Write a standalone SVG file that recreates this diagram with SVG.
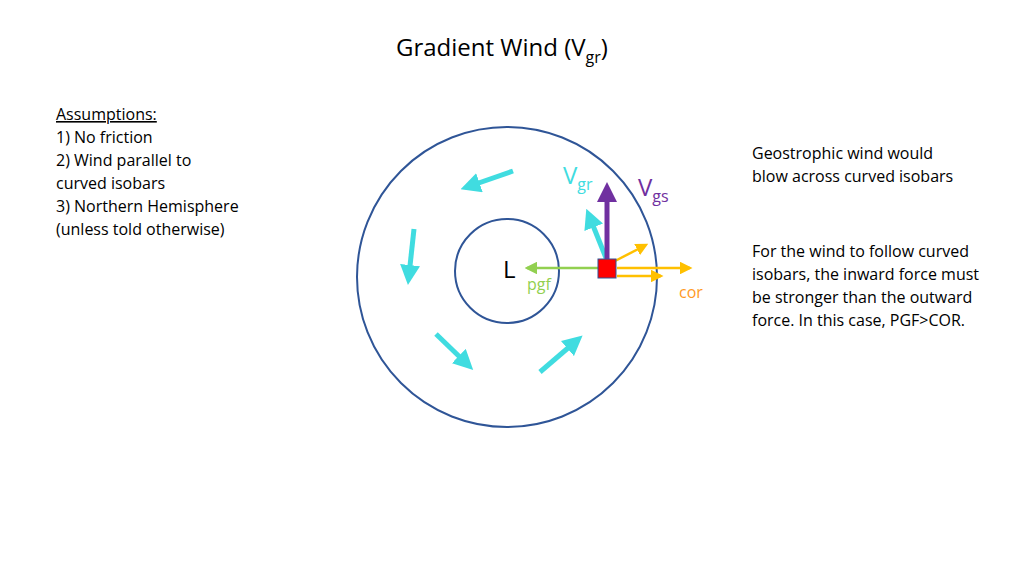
<svg xmlns="http://www.w3.org/2000/svg" width="1024" height="576" viewBox="0 0 1024 576">
<style>
text{font-family:"Open Sans","Liberation Sans",sans-serif;fill:#000}
.t{font-size:16px}
.c{fill:none;stroke:#2f5597;stroke-width:2}
</style>
<defs>
<marker id="ac" markerWidth="4" markerHeight="4" refX="2" refY="2" orient="auto" markerUnits="strokeWidth"><path d="M0,0L4,2L0,4Z" fill="#40dce0"/></marker>
<marker id="ap" markerWidth="4" markerHeight="4" refX="2" refY="2" orient="auto" markerUnits="strokeWidth"><path d="M0,0L4,2L0,4Z" fill="#7030a0"/></marker>
<marker id="ay" markerWidth="5" markerHeight="5" refX="4" refY="2.5" orient="auto" markerUnits="strokeWidth"><path d="M0,0L5,2.5L0,5Z" fill="#ffc000"/></marker>
<marker id="ag" markerWidth="5" markerHeight="5" refX="4" refY="2.5" orient="auto" markerUnits="strokeWidth"><path d="M0,0L5,2.5L0,5Z" fill="#92d050"/></marker>
</defs>
<rect width="1024" height="576" fill="#fff"/>
<text x="396" y="56" font-size="24">Gradient Wind (V<tspan font-size="16" dy="7">gr</tspan><tspan dy="-7">)</tspan></text>
<g id="assumptions" class="t">
<text x="56" y="120" text-decoration="underline">Assumptions:</text>
<text x="56" y="143">1)   No friction</text>
<text x="56" y="166">2)   Wind parallel to</text>
<text x="56" y="189">curved isobars</text>
<text x="56" y="212">3)  Northern Hemisphere</text>
<text x="56" y="235">(unless told otherwise)</text>
</g>
<g id="notes" class="t">
<text x="752" y="159">Geostrophic wind would</text>
<text x="752" y="182">blow across curved isobars</text>
<text x="752" y="257">For the wind to follow curved</text>
<text x="752" y="280">isobars, the inward force must</text>
<text x="752" y="303">be stronger than the outward</text>
<text x="752" y="326">force.   In this case, PGF&gt;COR.</text>
</g>
<g id="isobars">
<circle class="c" cx="507" cy="277" r="150"/>
<circle class="c" cx="507" cy="271" r="52"/>
</g>
<text x="503" y="278" font-size="24">L</text>
<g id="connectors" fill="none" stroke-width="5">
<g stroke="#40dce0">
<line x1="513" y1="171" x2="470" y2="186" marker-end="url(#ac)"/>
<line x1="414" y1="229" x2="409" y2="275" marker-end="url(#ac)"/>
<line x1="436" y1="334" x2="466" y2="363" marker-end="url(#ac)"/>
<line x1="540" y1="372" x2="575" y2="342" marker-end="url(#ac)"/>
<line x1="606" y1="258" x2="590" y2="218" marker-end="url(#ac)"/>
</g>
<line x1="607" y1="259" x2="607" y2="192" stroke="#7030a0" marker-end="url(#ap)"/>
<g stroke="#ffc000" stroke-width="2.5">
<line x1="615" y1="261" x2="646" y2="245" marker-end="url(#ay)"/>
<line x1="617" y1="268" x2="690" y2="268" marker-end="url(#ay)"/>
<line x1="617" y1="276" x2="661" y2="276" marker-end="url(#ay)"/>
</g>
<line x1="598" y1="268" x2="527" y2="268" stroke="#92d050" stroke-width="2.5" marker-end="url(#ag)"/>
</g>
<rect id="parcel" x="598" y="259" width="18" height="19" fill="#ff0000" stroke="#2f5597" stroke-width="1"/>
<g id="labels">
<text x="563" y="184" font-size="24" style="fill:#40dce0">V<tspan font-size="16" dy="6">gr</tspan></text>
<text x="638" y="196" font-size="24" style="fill:#7030a0">V<tspan font-size="16" dy="6">gs</tspan></text>
<text x="527" y="290" font-size="16" style="fill:#92d050">pgf</text>
<text x="679" y="298" font-size="16" style="fill:#ff9a1f">cor</text>
</g>
</svg>
